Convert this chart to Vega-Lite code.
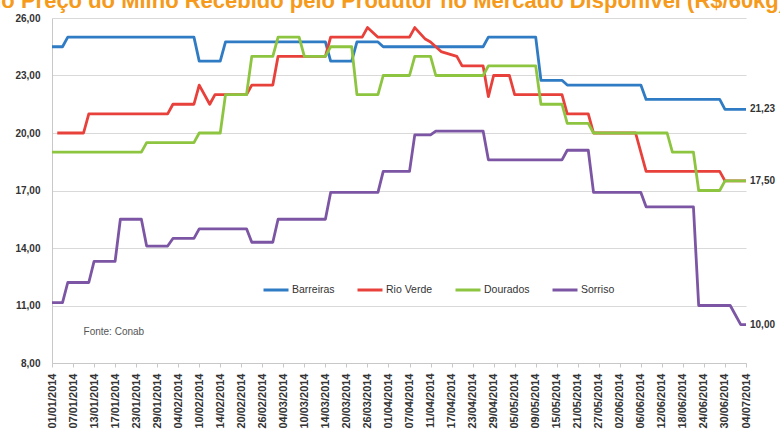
{
  "$schema": "https://vega.github.io/schema/vega-lite/v6.json",
  "width": 694,
  "height": 345,
  "autosize": {"type": "none"},
  "padding": {"left": 52, "top": 18, "right": 34, "bottom": 75},
  "background": "white",
  "config": {"view": {"stroke": null}, "font": "Liberation Sans"},
  "title": {
    "text": "Evolução do Preço do Milho Recebido pelo Produtor no Mercado Disponível (R$/60kg)",
    "anchor": "start",
    "frame": "group",
    "fontSize": 22,
    "fontWeight": "bold",
    "font": "Liberation Sans",
    "color": "#F59A1B",
    "dx": -168,
    "dy": 17,
    "offset": 0,
    "baseline": "alphabetic"
  },
  "datasets": {
    "precos": [
      {"data": "2014-01-01", "praca": "Barreiras", "valor": 24.5},
      {"data": "2014-01-03", "praca": "Barreiras", "valor": 24.5},
      {"data": "2014-01-06", "praca": "Barreiras", "valor": 25.0},
      {"data": "2014-02-07", "praca": "Barreiras", "valor": 25.0},
      {"data": "2014-02-10", "praca": "Barreiras", "valor": 23.75},
      {"data": "2014-02-14", "praca": "Barreiras", "valor": 23.75},
      {"data": "2014-02-17", "praca": "Barreiras", "valor": 24.75},
      {"data": "2014-03-14", "praca": "Barreiras", "valor": 24.75},
      {"data": "2014-03-17", "praca": "Barreiras", "valor": 23.75},
      {"data": "2014-03-21", "praca": "Barreiras", "valor": 23.75},
      {"data": "2014-03-24", "praca": "Barreiras", "valor": 24.75},
      {"data": "2014-03-28", "praca": "Barreiras", "valor": 24.75},
      {"data": "2014-03-31", "praca": "Barreiras", "valor": 24.5},
      {"data": "2014-04-25", "praca": "Barreiras", "valor": 24.5},
      {"data": "2014-04-28", "praca": "Barreiras", "valor": 25.0},
      {"data": "2014-05-09", "praca": "Barreiras", "valor": 25.0},
      {"data": "2014-05-12", "praca": "Barreiras", "valor": 22.75},
      {"data": "2014-05-16", "praca": "Barreiras", "valor": 22.75},
      {"data": "2014-05-19", "praca": "Barreiras", "valor": 22.5},
      {"data": "2014-06-06", "praca": "Barreiras", "valor": 22.5},
      {"data": "2014-06-09", "praca": "Barreiras", "valor": 21.75},
      {"data": "2014-06-27", "praca": "Barreiras", "valor": 21.75},
      {"data": "2014-06-30", "praca": "Barreiras", "valor": 21.23},
      {"data": "2014-07-04", "praca": "Barreiras", "valor": 21.23},

      {"data": "2014-01-02", "praca": "Rio Verde", "valor": 20.0},
      {"data": "2014-01-09", "praca": "Rio Verde", "valor": 20.0},
      {"data": "2014-01-10", "praca": "Rio Verde", "valor": 21.0},
      {"data": "2014-01-31", "praca": "Rio Verde", "valor": 21.0},
      {"data": "2014-02-03", "praca": "Rio Verde", "valor": 21.5},
      {"data": "2014-02-07", "praca": "Rio Verde", "valor": 21.5},
      {"data": "2014-02-10", "praca": "Rio Verde", "valor": 22.5},
      {"data": "2014-02-12", "praca": "Rio Verde", "valor": 21.5},
      {"data": "2014-02-13", "praca": "Rio Verde", "valor": 22.0},
      {"data": "2014-02-21", "praca": "Rio Verde", "valor": 22.0},
      {"data": "2014-02-24", "praca": "Rio Verde", "valor": 22.5},
      {"data": "2014-02-28", "praca": "Rio Verde", "valor": 22.5},
      {"data": "2014-03-03", "praca": "Rio Verde", "valor": 24.0},
      {"data": "2014-03-14", "praca": "Rio Verde", "valor": 24.0},
      {"data": "2014-03-17", "praca": "Rio Verde", "valor": 25.0},
      {"data": "2014-03-25", "praca": "Rio Verde", "valor": 25.0},
      {"data": "2014-03-26", "praca": "Rio Verde", "valor": 25.5},
      {"data": "2014-03-28", "praca": "Rio Verde", "valor": 25.0},
      {"data": "2014-04-07", "praca": "Rio Verde", "valor": 25.0},
      {"data": "2014-04-08", "praca": "Rio Verde", "valor": 25.5},
      {"data": "2014-04-10", "praca": "Rio Verde", "valor": 24.9},
      {"data": "2014-04-11", "praca": "Rio Verde", "valor": 24.75},
      {"data": "2014-04-15", "praca": "Rio Verde", "valor": 24.25},
      {"data": "2014-04-18", "praca": "Rio Verde", "valor": 24.0},
      {"data": "2014-04-21", "praca": "Rio Verde", "valor": 23.5},
      {"data": "2014-04-25", "praca": "Rio Verde", "valor": 23.5},
      {"data": "2014-04-28", "praca": "Rio Verde", "valor": 21.9},
      {"data": "2014-04-29", "praca": "Rio Verde", "valor": 23.0},
      {"data": "2014-05-02", "praca": "Rio Verde", "valor": 23.0},
      {"data": "2014-05-05", "praca": "Rio Verde", "valor": 22.0},
      {"data": "2014-05-16", "praca": "Rio Verde", "valor": 22.0},
      {"data": "2014-05-19", "praca": "Rio Verde", "valor": 21.0},
      {"data": "2014-05-23", "praca": "Rio Verde", "valor": 21.0},
      {"data": "2014-05-26", "praca": "Rio Verde", "valor": 20.0},
      {"data": "2014-06-05", "praca": "Rio Verde", "valor": 20.0},
      {"data": "2014-06-09", "praca": "Rio Verde", "valor": 18.0},
      {"data": "2014-06-27", "praca": "Rio Verde", "valor": 18.0},
      {"data": "2014-06-30", "praca": "Rio Verde", "valor": 17.5},
      {"data": "2014-07-04", "praca": "Rio Verde", "valor": 17.5},

      {"data": "2014-01-01", "praca": "Dourados", "valor": 19.0},
      {"data": "2014-01-24", "praca": "Dourados", "valor": 19.0},
      {"data": "2014-01-27", "praca": "Dourados", "valor": 19.5},
      {"data": "2014-02-07", "praca": "Dourados", "valor": 19.5},
      {"data": "2014-02-10", "praca": "Dourados", "valor": 20.0},
      {"data": "2014-02-14", "praca": "Dourados", "valor": 20.0},
      {"data": "2014-02-17", "praca": "Dourados", "valor": 22.0},
      {"data": "2014-02-21", "praca": "Dourados", "valor": 22.0},
      {"data": "2014-02-24", "praca": "Dourados", "valor": 24.0},
      {"data": "2014-02-28", "praca": "Dourados", "valor": 24.0},
      {"data": "2014-03-03", "praca": "Dourados", "valor": 25.0},
      {"data": "2014-03-07", "praca": "Dourados", "valor": 25.0},
      {"data": "2014-03-10", "praca": "Dourados", "valor": 24.0},
      {"data": "2014-03-14", "praca": "Dourados", "valor": 24.0},
      {"data": "2014-03-17", "praca": "Dourados", "valor": 24.5},
      {"data": "2014-03-21", "praca": "Dourados", "valor": 24.5},
      {"data": "2014-03-24", "praca": "Dourados", "valor": 22.0},
      {"data": "2014-03-28", "praca": "Dourados", "valor": 22.0},
      {"data": "2014-03-31", "praca": "Dourados", "valor": 23.0},
      {"data": "2014-04-07", "praca": "Dourados", "valor": 23.0},
      {"data": "2014-04-08", "praca": "Dourados", "valor": 24.0},
      {"data": "2014-04-11", "praca": "Dourados", "valor": 24.0},
      {"data": "2014-04-14", "praca": "Dourados", "valor": 23.0},
      {"data": "2014-04-25", "praca": "Dourados", "valor": 23.0},
      {"data": "2014-04-28", "praca": "Dourados", "valor": 23.5},
      {"data": "2014-05-09", "praca": "Dourados", "valor": 23.5},
      {"data": "2014-05-12", "praca": "Dourados", "valor": 21.5},
      {"data": "2014-05-16", "praca": "Dourados", "valor": 21.5},
      {"data": "2014-05-19", "praca": "Dourados", "valor": 20.5},
      {"data": "2014-05-23", "praca": "Dourados", "valor": 20.5},
      {"data": "2014-05-26", "praca": "Dourados", "valor": 20.0},
      {"data": "2014-06-13", "praca": "Dourados", "valor": 20.0},
      {"data": "2014-06-16", "praca": "Dourados", "valor": 19.0},
      {"data": "2014-06-20", "praca": "Dourados", "valor": 19.0},
      {"data": "2014-06-23", "praca": "Dourados", "valor": 17.0},
      {"data": "2014-06-27", "praca": "Dourados", "valor": 17.0},
      {"data": "2014-06-30", "praca": "Dourados", "valor": 17.5},
      {"data": "2014-07-04", "praca": "Dourados", "valor": 17.5},

      {"data": "2014-01-01", "praca": "Sorriso", "valor": 11.15},
      {"data": "2014-01-03", "praca": "Sorriso", "valor": 11.15},
      {"data": "2014-01-06", "praca": "Sorriso", "valor": 12.2},
      {"data": "2014-01-10", "praca": "Sorriso", "valor": 12.2},
      {"data": "2014-01-13", "praca": "Sorriso", "valor": 13.3},
      {"data": "2014-01-17", "praca": "Sorriso", "valor": 13.3},
      {"data": "2014-01-20", "praca": "Sorriso", "valor": 15.5},
      {"data": "2014-01-24", "praca": "Sorriso", "valor": 15.5},
      {"data": "2014-01-27", "praca": "Sorriso", "valor": 14.1},
      {"data": "2014-01-31", "praca": "Sorriso", "valor": 14.1},
      {"data": "2014-02-03", "praca": "Sorriso", "valor": 14.5},
      {"data": "2014-02-07", "praca": "Sorriso", "valor": 14.5},
      {"data": "2014-02-10", "praca": "Sorriso", "valor": 15.0},
      {"data": "2014-02-21", "praca": "Sorriso", "valor": 15.0},
      {"data": "2014-02-24", "praca": "Sorriso", "valor": 14.3},
      {"data": "2014-02-28", "praca": "Sorriso", "valor": 14.3},
      {"data": "2014-03-03", "praca": "Sorriso", "valor": 15.5},
      {"data": "2014-03-14", "praca": "Sorriso", "valor": 15.5},
      {"data": "2014-03-17", "praca": "Sorriso", "valor": 16.9},
      {"data": "2014-03-28", "praca": "Sorriso", "valor": 16.9},
      {"data": "2014-03-31", "praca": "Sorriso", "valor": 18.0},
      {"data": "2014-04-07", "praca": "Sorriso", "valor": 18.0},
      {"data": "2014-04-08", "praca": "Sorriso", "valor": 19.9},
      {"data": "2014-04-11", "praca": "Sorriso", "valor": 19.9},
      {"data": "2014-04-14", "praca": "Sorriso", "valor": 20.1},
      {"data": "2014-04-25", "praca": "Sorriso", "valor": 20.1},
      {"data": "2014-04-28", "praca": "Sorriso", "valor": 18.6},
      {"data": "2014-05-16", "praca": "Sorriso", "valor": 18.6},
      {"data": "2014-05-19", "praca": "Sorriso", "valor": 19.1},
      {"data": "2014-05-23", "praca": "Sorriso", "valor": 19.1},
      {"data": "2014-05-26", "praca": "Sorriso", "valor": 16.9},
      {"data": "2014-06-06", "praca": "Sorriso", "valor": 16.9},
      {"data": "2014-06-09", "praca": "Sorriso", "valor": 16.15},
      {"data": "2014-06-20", "praca": "Sorriso", "valor": 16.15},
      {"data": "2014-06-23", "praca": "Sorriso", "valor": 11.0},
      {"data": "2014-07-01", "praca": "Sorriso", "valor": 11.0},
      {"data": "2014-07-03", "praca": "Sorriso", "valor": 10.0},
      {"data": "2014-07-04", "praca": "Sorriso", "valor": 10.0}
    ],
    "rotulos": [
      {"data": "2014-07-04", "valor": 21.23, "rotulo": "21,23"},
      {"data": "2014-07-04", "valor": 17.5, "rotulo": "17,50"},
      {"data": "2014-07-04", "valor": 10.0, "rotulo": "10,00"}
    ],
    "fonte": [
      {"data": "2014-01-09", "valor": 9.6, "rotulo": "Fonte: Conab"}
    ]
  },
  "encoding": {
    "x": {
      "field": "data",
      "type": "ordinal",
      "scale": {
        "type": "point",
        "padding": 0,
        "domain": [
          "2014-01-01","2014-01-02","2014-01-03","2014-01-06","2014-01-07","2014-01-08","2014-01-09","2014-01-10","2014-01-13","2014-01-14","2014-01-15","2014-01-16","2014-01-17","2014-01-20","2014-01-21","2014-01-22","2014-01-23","2014-01-24","2014-01-27","2014-01-28","2014-01-29","2014-01-30","2014-01-31",
          "2014-02-03","2014-02-04","2014-02-05","2014-02-06","2014-02-07","2014-02-10","2014-02-11","2014-02-12","2014-02-13","2014-02-14","2014-02-17","2014-02-18","2014-02-19","2014-02-20","2014-02-21","2014-02-24","2014-02-25","2014-02-26","2014-02-27","2014-02-28",
          "2014-03-03","2014-03-04","2014-03-05","2014-03-06","2014-03-07","2014-03-10","2014-03-11","2014-03-12","2014-03-13","2014-03-14","2014-03-17","2014-03-18","2014-03-19","2014-03-20","2014-03-21","2014-03-24","2014-03-25","2014-03-26","2014-03-27","2014-03-28","2014-03-31",
          "2014-04-01","2014-04-02","2014-04-03","2014-04-04","2014-04-07","2014-04-08","2014-04-09","2014-04-10","2014-04-11","2014-04-14","2014-04-15","2014-04-16","2014-04-17","2014-04-18","2014-04-21","2014-04-22","2014-04-23","2014-04-24","2014-04-25","2014-04-28","2014-04-29","2014-04-30",
          "2014-05-01","2014-05-02","2014-05-05","2014-05-06","2014-05-07","2014-05-08","2014-05-09","2014-05-12","2014-05-13","2014-05-14","2014-05-15","2014-05-16","2014-05-19","2014-05-20","2014-05-21","2014-05-22","2014-05-23","2014-05-26","2014-05-27","2014-05-28","2014-05-29","2014-05-30",
          "2014-06-02","2014-06-03","2014-06-04","2014-06-05","2014-06-06","2014-06-09","2014-06-10","2014-06-11","2014-06-12","2014-06-13","2014-06-16","2014-06-17","2014-06-18","2014-06-19","2014-06-20","2014-06-23","2014-06-24","2014-06-25","2014-06-26","2014-06-27","2014-06-30",
          "2014-07-01","2014-07-02","2014-07-03","2014-07-04"
        ]
      },
      "axis": {
        "title": null,
        "values": ["2014-01-01","2014-01-07","2014-01-13","2014-01-17","2014-01-23","2014-01-29","2014-02-04","2014-02-10","2014-02-14","2014-02-20","2014-02-26","2014-03-04","2014-03-10","2014-03-14","2014-03-20","2014-03-26","2014-04-01","2014-04-07","2014-04-11","2014-04-17","2014-04-23","2014-04-29","2014-05-05","2014-05-09","2014-05-15","2014-05-21","2014-05-27","2014-06-02","2014-06-06","2014-06-12","2014-06-18","2014-06-24","2014-06-30","2014-07-04"],
        "labelExpr": "slice(datum.value,8,10)+'/'+slice(datum.value,5,7)+'/'+slice(datum.value,0,4)",
        "labelAngle": -90,
        "labelFontSize": 11,
        "labelFontWeight": "bold",
        "labelColor": "#333333",
        "labelPadding": 6,
        "labelOverlap": false,
        "labelBound": false,
        "grid": false,
        "ticks": true,
        "tickSize": 4,
        "tickColor": "#c8c8c8",
        "domainColor": "#c8c8c8"
      }
    },
    "y": {
      "field": "valor",
      "type": "quantitative",
      "scale": {"domain": [8, 26], "nice": false, "zero": false},
      "axis": {
        "title": null,
        "values": [8, 11, 14, 17, 20, 23, 26],
        "labelExpr": "replace(format(datum.value, '.2f'), '.', ',')",
        "labelFontSize": 10,
        "labelFontWeight": "bold",
        "labelColor": "#333333",
        "labelPadding": 12,
        "ticks": false,
        "grid": true,
        "gridColor": "#d9d9d9",
        "domainColor": "#c8c8c8"
      }
    }
  },
  "layer": [
    {
      "data": {"name": "precos"},
      "mark": {"type": "line", "strokeWidth": 2.8, "strokeJoin": "round"},
      "encoding": {
        "color": {
          "field": "praca",
          "type": "nominal",
          "scale": {
            "domain": ["Barreiras", "Rio Verde", "Dourados", "Sorriso"],
            "range": ["#2F7BC4", "#E8403A", "#8DC540", "#7C56A4"]
          },
          "legend": {
            "orient": "none",
            "legendX": 210,
            "legendY": 258,
            "direction": "horizontal",
            "title": null,
            "symbolType": "stroke",
            "symbolSize": 625,
            "symbolStrokeWidth": 3,
            "labelFontSize": 10.5,
            "labelColor": "#333333",
            "labelOffset": 2,
            "columnPadding": 16
          }
        }
      }
    },
    {
      "data": {"name": "rotulos"},
      "mark": {"type": "text", "align": "left", "dx": 4, "fontSize": 10, "fontWeight": "bold", "color": "#333333"},
      "encoding": {"text": {"field": "rotulo"}}
    },
    {
      "data": {"name": "fonte"},
      "mark": {"type": "text", "align": "left", "fontSize": 10, "color": "#555555"},
      "encoding": {"text": {"field": "rotulo"}}
    }
  ]
}
